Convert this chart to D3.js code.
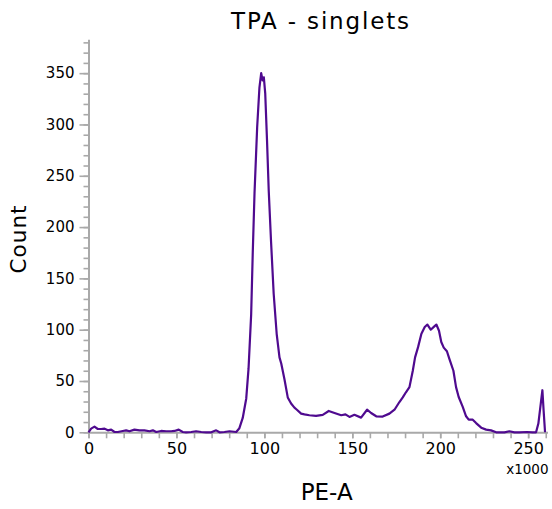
<!DOCTYPE html>
<html>
<head>
<meta charset="utf-8">
<script src="https://cdn.jsdelivr.net/npm/d3@7"></script>
<style>
  html, body { margin: 0; padding: 0; background: #fff; }
  svg { display: block; font-family: "DejaVu Sans", Verdana, sans-serif; }
</style>
</head>
<body>
<svg id="chart" width="552" height="509"></svg>
<script>
// PE-A (x1000) positions and counts
const peA = [0, 1.5, 3.4, 5.3, 7.2, 9.1, 11, 12.9, 14.8, 16.7, 19.5, 21.4, 23.3, 26.1, 29, 31.8, 34.7, 36.6, 38.5, 41.3, 44.2, 47, 48.9, 51.3, 53.6, 55.5, 58.4, 61.2, 64.1, 66.9, 69.8, 72.6, 74.5, 77.3, 80.2, 84,
  85.8, 87.7, 89.7, 91, 92.5, 93.4, 94.4, 95.9, 97.2, 98.2, 99.0, 99.7, 100.5, 101.5, 102.5, 103.8, 105.3, 107, 108.6, 109.6, 111.4, 113.3, 115.2, 117.1, 118.5, 120.9, 122.8, 125.6, 129.4, 133.2, 136.6, 139.9, 143.7, 146.1, 148.4, 151.2, 155, 158.4, 160.7, 163.6, 167.3, 171.1, 174, 176.8, 178.7, 180.5, 182.5, 184.4, 185.7, 187.4, 189.3, 191.2, 192.7, 194.6, 196.5, 197.8, 199.3, 200.6, 202, 203.8, 205.3, 207.5, 209, 210.5, 212.8, 214.7, 216.2, 218.5, 220.4, 223.3, 226.1, 228.9, 231.8, 236.5, 239.3, 242.2, 245, 249.2, 252.6, 254.5, 255.8, 258.1, 258.8, 259.6];
const counts = [0, 3.6, 5.5, 3.2, 3.2, 3.6, 1.9, 2.6, 0.3, 0.3, 1.3, 1.9, 1.0, 2.6, 1.9, 1.9, 1.0, 1.9, 0.3, 1.3, 1.0, 1.0, 1.3, 2.6, 0.3, 0, 0.3, 1.0, 0.3, 0, 0, 1.9, 0, 0.3, 1.0, 0.3,
  4, 14, 33, 62, 115, 175, 233, 297, 336, 350, 343, 346, 330, 285, 235, 186, 135, 96, 73, 67, 52, 34, 28, 24, 22, 18.2, 17.5, 16.6, 16, 17, 20.8, 18.8, 16.6, 17.5, 15, 17, 14.3, 22, 18.8, 15.6, 15.3, 18.2, 22, 29.5, 34, 39, 44, 60, 73, 83, 96, 102.6, 105, 100, 103, 105, 99, 88, 82.5, 79, 71, 60, 44, 34.4, 24.7, 15.6, 12.3, 12.3, 9, 4.5, 2.6, 1.9, 0, 0, 1, 0, 0, 0.3, 0, 0, 8.5, 41, 21, 0];

const xMajorTicks = [0, 50, 100, 150, 200, 250];
const xMinorTicks = d3.range(0, 261, 10);
const yMajorTicks = [0, 50, 100, 150, 200, 250, 300, 350];
const yMinorTicks = d3.range(0, 381, 10);

const titleText = "TPA - singlets";
const xLabel = "PE-A";
const yLabel = "Count";
const xUnit = "x1000";

const svg = d3.select("#chart");
const axisColor = "#a9a9a9";
const lineColor = "#4f0a8f";

const x = d3.scaleLinear().domain([0, 261]).range([88.5, 547.5]);
const y = d3.scaleLinear().domain([0, 383]).range([432.3, 39.3]);

// X axis: minor (all ticks) then labels
svg.append("g").attr("transform", `translate(0,${y(0)})`)
  .call(d3.axisBottom(x).tickValues(xMinorTicks).tickSize(6).tickSizeOuter(0).tickFormat(""));
const gx = svg.append("g").attr("transform", `translate(0,${y(0)})`)
  .call(d3.axisBottom(x).tickValues(xMajorTicks).tickSize(6).tickSizeOuter(0).tickPadding(4.5).tickFormat(d3.format("d")));
gx.select(".domain").remove();

// Y axis
svg.append("g").attr("transform", `translate(${x(0)},0)`)
  .call(d3.axisLeft(y).tickValues(yMinorTicks).tickSize(5).tickSizeOuter(0).tickFormat(""));
const gy = svg.append("g").attr("transform", `translate(${x(0)},0)`)
  .call(d3.axisLeft(y).tickValues(yMajorTicks).tickSize(9).tickSizeOuter(0).tickPadding(5).tickFormat(d3.format("d")));
gy.select(".domain").remove();

svg.selectAll(".domain").attr("stroke", axisColor).attr("stroke-width", 2);
svg.selectAll(".tick line").attr("stroke", axisColor).attr("stroke-width", 1.6);
gx.selectAll("text").attr("fill", "#000").style("font-size", "16px").style("font-family", "DejaVu Sans");
gy.selectAll("text").attr("fill", "#000").style("font-size", "15px").style("font-family", "DejaVu Sans");

// Histogram line
const data = peA.map((v, i) => ({ v, c: counts[i] }));
svg.append("path")
  .datum(data)
  .attr("fill", "none")
  .attr("stroke", lineColor)
  .attr("stroke-width", 2.2)
  .attr("stroke-linejoin", "round")
  .attr("d", d3.line().x(d => x(d.v)).y(d => y(d.c)));

// Titles
svg.append("text")
  .attr("x", 231).attr("y", 28.5)
  .attr("textLength", 178).attr("lengthAdjust", "spacing")
  .style("font-size", "23px").attr("fill", "#000")
  .text(titleText);

svg.append("text")
  .attr("transform", "translate(26,239.5) rotate(-90)")
  .attr("text-anchor", "middle")
  .attr("textLength", 68).attr("lengthAdjust", "spacing")
  .style("font-size", "21.5px").attr("fill", "#000")
  .text(yLabel);

svg.append("text")
  .attr("x", 326.7).attr("y", 500)
  .attr("text-anchor", "middle")
  .style("font-size", "23px").attr("fill", "#000")
  .text(xLabel);

svg.append("text")
  .attr("x", 548.5).attr("y", 474)
  .attr("text-anchor", "end")
  .style("font-size", "13.5px").attr("fill", "#000")
  .text(xUnit);
</script>
</body>
</html>
